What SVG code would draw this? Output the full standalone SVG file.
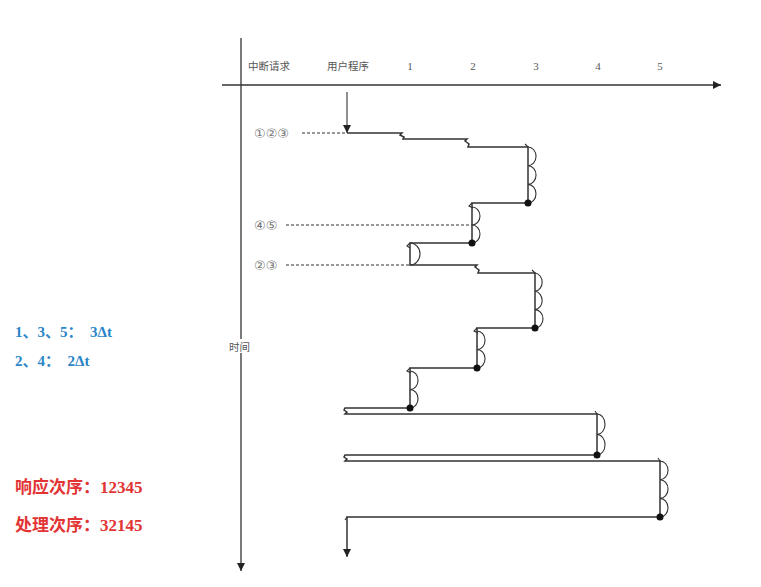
<svg xmlns="http://www.w3.org/2000/svg" width="761" height="587" viewBox="0 0 761 587">
<defs>
<style>
.ax{stroke:#333;stroke-width:1.3;fill:none}
.ln{stroke:#333;stroke-width:1.5;fill:none}
.lp{stroke:#333;stroke-width:1.1;fill:none}
.ds{stroke:#333;stroke-width:1.2;stroke-dasharray:3 2;fill:none}
.dot{fill:#111}
.hd{font-family:"Liberation Serif","Noto Sans CJK SC",serif;font-size:11px;fill:#555}
.cn{font-family:"Noto Sans CJK SC",sans-serif;font-size:10.5px;fill:#555}
.cc{font-family:"DejaVu Sans","Noto Sans CJK SC",sans-serif;font-size:13px;fill:#777}
.bl{font-family:"Liberation Serif","Noto Sans CJK SC",serif;font-size:15px;font-weight:bold;fill:#2a86c8;white-space:pre}
.rd{font-family:"Liberation Serif","Noto Sans CJK SC",serif;font-size:17px;font-weight:bold;fill:#e23434}
</style>
<marker id="ah" viewBox="0 0 10 10" refX="10" refY="5" markerWidth="8" markerHeight="8" markerUnits="userSpaceOnUse" orient="auto"><path d="M0,0 L10,5 L0,10 Z" fill="#222"/></marker>
</defs>
<rect width="761" height="587" fill="#fff"/>
<g id="axes">
<line class="ax" x1="241" y1="38" x2="241" y2="571" marker-end="url(#ah)"/>
<line class="ax" x1="222" y1="85" x2="721" y2="85" marker-end="url(#ah)"/>
</g>
<g id="header">
<text class="cn" x="248" y="70">中断请求</text>
<text class="cn" x="327" y="70">用户程序</text>
<text class="hd" x="410" y="70" text-anchor="middle">1</text>
<text class="hd" x="473" y="70" text-anchor="middle">2</text>
<text class="hd" x="536" y="70" text-anchor="middle">3</text>
<text class="hd" x="598" y="70" text-anchor="middle">4</text>
<text class="hd" x="660" y="70" text-anchor="middle">5</text>
<rect x="228" y="339" width="27" height="14" fill="#fff"/>
<text class="cn" x="229" y="351">时间</text>
</g>
<g id="requests">
<text class="cc" x="254" y="138">①②③</text>
<text class="cc" x="254" y="230">④⑤</text>
<text class="cc" x="254" y="270">②③</text>
<line class="ds" x1="302" y1="133" x2="345" y2="133"/>
<line class="ds" x1="286" y1="225" x2="472" y2="225"/>
<line class="ds" x1="286" y1="265" x2="409" y2="265"/>
</g>
<g id="connectors">
<line class="lp" x1="347" y1="92" x2="347" y2="133" marker-end="url(#ah)"/>
<path class="ln" d="M347,133 H402 L400,135 L404,137 L403,139 H467 L465,141 L469,144 L468,147 H528 V203 H472 V243 H410 V265 H477 L475,267 L479,270 L478,273 H535 V328 H477 V368 H410 V408 H345 L344,410 L347,412 L345,414 H597 V455 H345 L344,457 L347,459 L345,461 H660 V517 H347 V556"/>
<path class="lp" d="M347,549 V557" marker-end="url(#ah)"/>
<g id="breaks" class="lp">
<path d="M528,147 l-3,-3 M472,203 l-3,3 l4,2 M410,243 l-3,3 l3,2 M535,273 l-3,-3 M477,328 l-3,3 l4,2 M410,368 l-3,3 l4,2 M597,414 l-2,-3 M660,461 l-2,-3 M347,517 l-2,3"/>
</g>
<g id="loops" class="lp">
<path d="M528,147 a8,9.3 0 0 1 0,18.7 a8,9.3 0 0 1 0,18.7 a8,9.3 0 0 1 0,18.6"/>
<path d="M472,207 a8,9 0 0 1 0,18 a8,9 0 0 1 0,18"/>
<path d="M410,243 a10,11 0 0 1 0,22"/>
<path d="M535,273 a8,9.2 0 0 1 0,18.3 a8,9.2 0 0 1 0,18.3 a8,9.2 0 0 1 0,18.4"/>
<path d="M477,331 a8,9.2 0 0 1 0,18.5 a8,9.2 0 0 1 0,18.5"/>
<path d="M410,371 a8,9.2 0 0 1 0,18.5 a8,9.2 0 0 1 0,18.5"/>
<path d="M597,414 a8,10.2 0 0 1 0,20.5 a8,10.2 0 0 1 0,20.5"/>
<path d="M660,461 a8,9.3 0 0 1 0,18.7 a8,9.3 0 0 1 0,18.7 a8,9.3 0 0 1 0,18.6"/>
</g>
<g id="dots">
<circle class="dot" cx="528" cy="203" r="3.5"/>
<circle class="dot" cx="472" cy="243" r="3.5"/>
<circle class="dot" cx="535" cy="328" r="3.5"/>
<circle class="dot" cx="477" cy="368" r="3.5"/>
<circle class="dot" cx="410" cy="408" r="3.5"/>
<circle class="dot" cx="597" cy="455" r="3.5"/>
<circle class="dot" cx="660" cy="517" r="3.5"/>
</g>
</g>
<g id="notes">
<text class="bl" x="15" y="337">1、3、5：  3Δt</text>
<text class="bl" x="15" y="366">2、4：  2Δt</text>
<text class="rd" x="15" y="493">响应次序：12345</text>
<text class="rd" x="15" y="531">处理次序：32145</text>
</g>
</svg>
